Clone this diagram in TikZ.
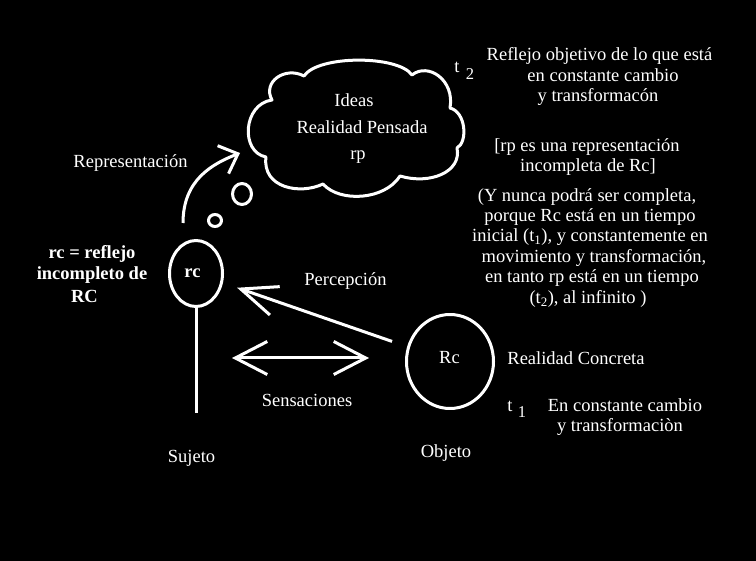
\documentclass[tikz,border=0pt]{standalone}
\usepackage{fontspec}
\setmainfont{Liberation Serif}
\usetikzlibrary{arrows.meta,shapes.geometric}
\begin{document}
\begin{tikzpicture}[x=1pt,y=-1pt,line width=3pt,white,line join=round,
  txt/.style={text=white,font=\fontsize{18.5}{21.5}\selectfont,inner sep=0pt,anchor=base},
  txtb/.style={txt,font=\fontsize{18.5}{21.5}\selectfont\bfseries},
  idx/.style={txt,font=\fontsize{16.5}{16.5}\selectfont},
  shp/.style={ellipse,draw=white,inner sep=0pt},
  barbA/.style={-{Straight Barb[length=36pt,width=30pt]}},
  barbB/.style={{Straight Barb[length=32pt,width=33pt]}-{Straight Barb[length=32pt,width=33pt]}},
  barbC/.style={-{Straight Barb[length=16pt,width=30pt]}}]
\fill[black] (0,0) rectangle (756,561);
\useasboundingbox (0,0) rectangle (756,561);

% cloud
\draw (266,157) .. controls (240,152) and (243,104) .. (272,100)
  .. controls (262,82) and (285,66) .. (304,76)
  .. controls (318,55) and (398,55) .. (412,75)
  .. controls (428,62) and (455,80) .. (450,108)
  .. controls (466,112) and (468,142) .. (457,148)
  .. controls (462,172) and (430,185) .. (400,176)
  .. controls (385,200) and (340,203) .. (323,184)
  .. controls (300,195) and (262,188) .. cycle;
\node[txt] (ideas) at (354,107) {Ideas};
\node[txt] (rpens) at (362,134) {Realidad Pensada};
\node[txt] (rp) at (358,160) {rp};

% bubbles
\node[shp,minimum width=19,minimum height=21] (bub1) at (242,194) {};
\node[shp,minimum width=13,minimum height=12] (bub2) at (215,220.5) {};

% t2
\node[txt] (t2t) at (457,73) {t};
\node[idx] (t2n) at (470,80) {2};

% right block
\node[txt] (r1) at (599.5,60.7) {Reflejo objetivo de lo que está};
\node[txt] (r2) at (603,81.7) {en constante cambio};
\node[txt] (r3) at (598,101.7) {y transformacón};
\node[txt] (r4) at (587,151.7) {[rp es una representación};
\node[txt] (r5) at (588,171.7) {incompleta de Rc]};
\node[txt] (r6) at (587,201.7) {(Y nunca podrá ser completa,};
\node[txt] (r7) at (590,221.7) {porque Rc está en un tiempo};
\node[txt] (r8) at (590,242) {inicial (t\textsubscript{1}), y constantemente en};
\node[txt] (r9) at (594,262.7) {movimiento y transformación,};
\node[txt] (r10) at (592,283) {en tanto rp está en un tiempo};
\node[txt] (r11) at (588,304) {(t\textsubscript{2}), al infinito )};

% subject
\node[shp,minimum width=53,minimum height=66] (rc) at (196,273.5) {};
\node[txtb] (rcl) at (192.5,278) {rc};
\coordinate (sujbase) at (196,413);
\draw (rc.south) -- (sujbase);
\node[txtb] (d1) at (92,259) {rc = reflejo};
\node[txtb] (d2) at (92,280) {incompleto de};
\node[txtb] (d3) at (84.5,302.7) {RC};
\node[txt] (suj) at (191.5,462.7) {Sujeto};

% representation arrow
\node[txt] (repr) at (130.5,168) {Representación};
\coordinate (rA) at (183,223);
\coordinate (rB) at (240,153);
\draw[barbC] (rA) .. controls (183,180) and (212,164) .. (rB);

% object
\node[shp,minimum width=87,minimum height=94] (Rc) at (450,361.5) {};
\node[txt] (Rcl) at (449.5,363.3) {Rc};
\node[txt] (realc) at (576,365) {Realidad Concreta};
\node[txt] (obj) at (446,458) {Objeto};
\node[txt] (t1t) at (510,411.7) {t};
\node[idx] (t1n) at (522,418) {1};
\node[txt] (c1) at (625,411.7) {En constante cambio};
\node[txt] (c2) at (620,431.7) {y transformaciòn};

% perception
\node[txt] (perc) at (345.5,285.7) {Percepción};
\draw[barbA,shorten <=16pt,shorten >=15pt] (Rc) -- (rc);

% sensations
\coordinate (sL) at (232,358);
\coordinate (sR) at (369,358);
\draw[barbB] (sL) -- (sR);
\node[txt] (sens) at (307,407) {Sensaciones};
\end{tikzpicture}
\end{document}
